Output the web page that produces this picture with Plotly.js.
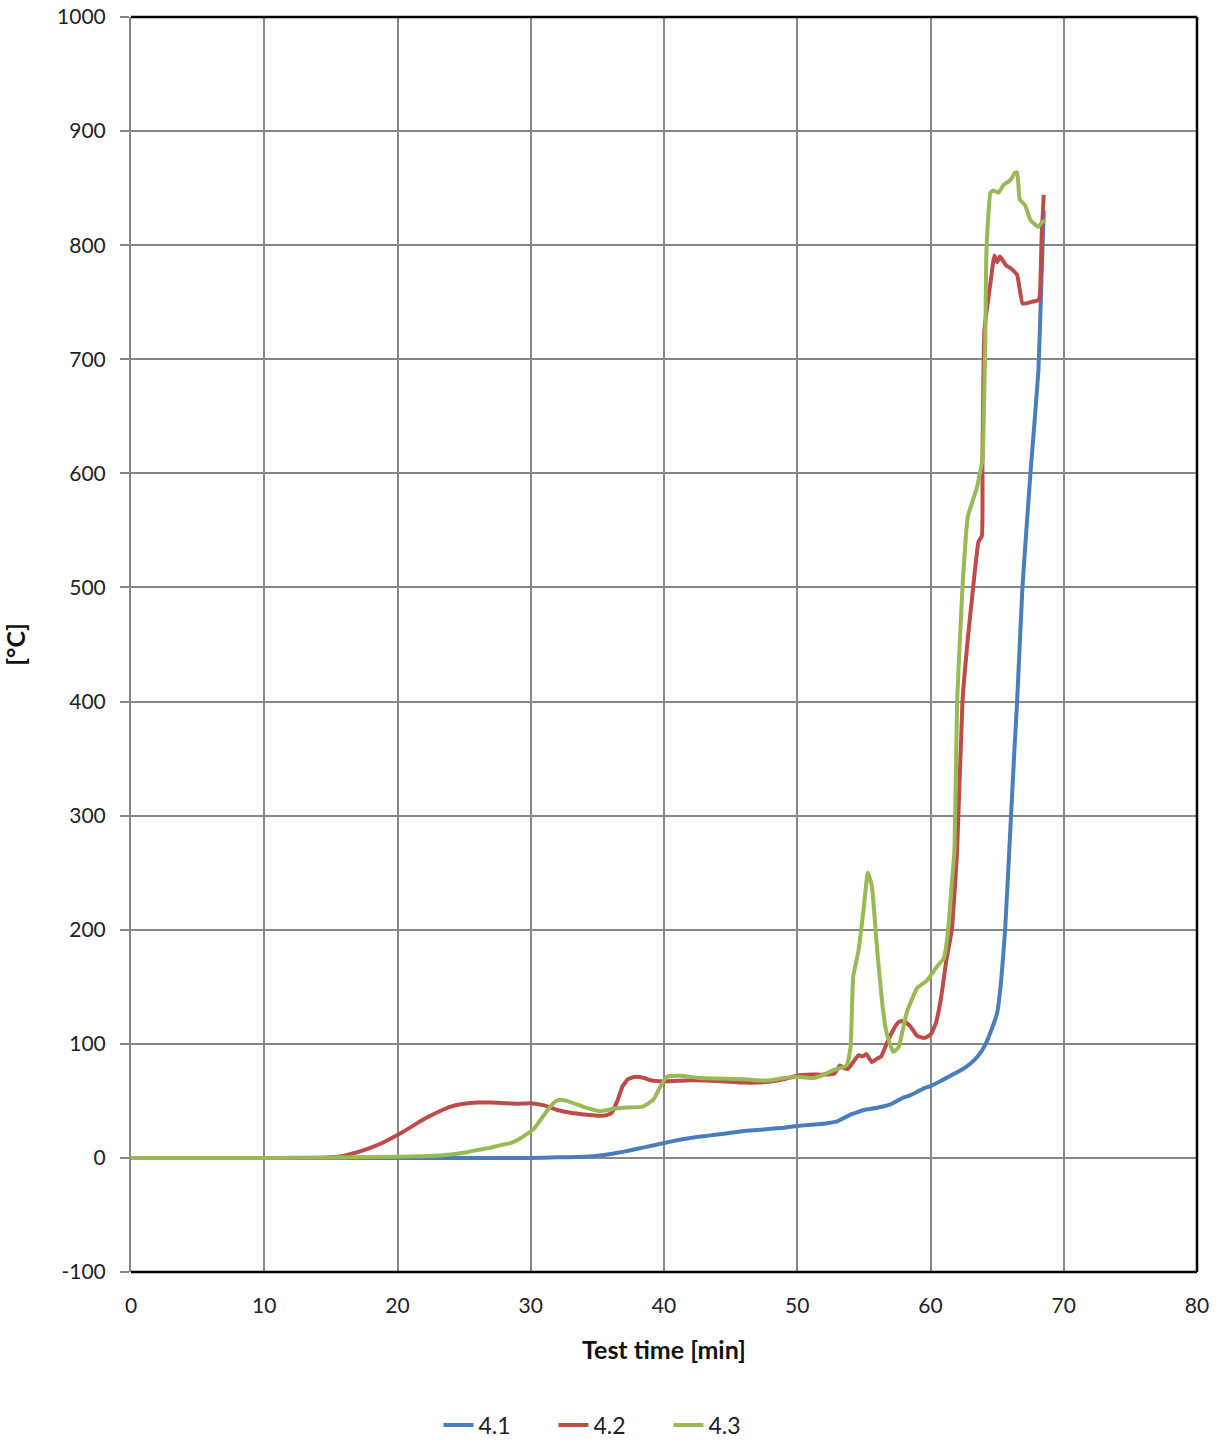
<!DOCTYPE html>
<html>
<head>
<meta charset="utf-8">
<script src="https://cdn.plot.ly/plotly-3.0.1.min.js"></script>
<style>html,body{margin:0;padding:0;background:#fff;}#chart{width:1222px;height:1440px;}</style>
</head>
<body>
<div id="chart"></div>
<script>
const seriesNames = ["4.1", "4.2", "4.3"];
const seriesColors = ["#4A7EBB", "#BE4B48", "#98B954"];

const t41 = [0, 10, 20, 30, 32, 34, 35, 36, 37, 38, 39, 40, 41, 42, 43, 44, 45, 46, 47, 48, 49, 50, 51, 52, 53, 53.5, 54, 54.5, 55, 56, 57, 57.5, 58, 58.5, 59, 59.5, 60, 60.7, 61.5, 62, 62.7, 63.3, 63.8, 64.1, 64.5, 65, 65.3, 65.6, 65.8, 66, 66.3, 66.5, 66.9, 67.5, 68.1, 68.3, 68.5];
const v41 = [0, 0, 0, 0, 0.5, 1, 2, 3.5, 5.5, 8, 10.5, 13, 15.5, 17.5, 19, 20.5, 22, 23.5, 24.5, 25.5, 26.5, 28, 29, 30, 32, 35, 38, 40, 42, 44, 47, 50, 53, 55, 58, 61, 63, 67, 72, 75, 80, 86, 93, 99, 110, 127, 155, 200, 244, 290, 358, 400, 500, 600, 690, 760, 830];

const t42 = [0, 10, 14, 15, 16, 17, 18, 19, 20, 21, 22, 23, 24, 25, 26, 27, 28, 29, 30, 31, 32, 33, 34, 35, 35.7, 36.1, 36.5, 36.9, 37.3, 37.8, 38.5, 39, 40, 42, 44, 46, 47, 48, 49, 50, 51, 52, 52.8, 53.2, 53.5, 53.8, 54.2, 54.6, 54.9, 55.2, 55.6, 56, 56.3, 56.7, 57.1, 57.6, 58, 58.5, 59, 59.5, 60, 60.4, 60.8, 61.2, 61.6, 62, 62.4, 62.8, 63.2, 63.6, 63.85, 63.9, 64.05, 64.5, 64.8, 65, 65.2, 65.4, 65.7, 66, 66.5, 66.9, 67.2, 67.5, 68.1, 68.2, 68.35, 68.5];
const v42 = [0, 0, 0, 0.5, 2, 5, 9, 14, 20, 27, 34, 40, 45, 47.5, 48.5, 48.5, 48, 47.5, 48, 46, 42, 39.5, 38, 37, 37.5, 40, 50, 63, 69, 71, 70, 68, 67, 68, 67.5, 66, 66, 67, 69, 72, 73, 73, 74, 81, 79, 78, 84, 90, 89, 91, 84, 87, 89, 100, 110, 119, 120, 115, 107, 105, 108, 118, 141, 174, 200, 270, 400, 455, 500, 540, 545, 612, 726, 767, 791, 785, 790, 787, 782, 780, 774, 749, 749, 750, 752, 755, 811, 844];

const t43 = [0, 10, 20, 22, 24, 25.2, 26, 27, 27.7, 28.5, 29.2, 30.2, 31.2, 31.8, 32.2, 32.7, 33.9, 35.2, 36.2, 36.9, 38.4, 39.2, 39.7, 40.2, 41.2, 42.7, 44, 46, 47, 48, 49, 50.2, 51.2, 52, 52.7, 53.7, 54, 54.2, 54.6, 54.95, 55.3, 55.6, 56, 56.4, 56.7, 57.2, 57.6, 58.2, 59, 59.7, 60.5, 61, 61.3, 61.6, 61.8, 62, 62.4, 62.8, 63.5, 63.7, 63.9, 64.1, 64.2, 64.5, 64.7, 65.1, 65.5, 66, 66.3, 66.5, 66.7, 67.1, 67.5, 68.1, 68.35, 68.6];
const v43 = [0, 0, 1, 1.5, 3, 5, 7, 9, 11, 13, 17, 25, 41, 49, 51, 50, 45, 41, 43, 44, 45, 51, 62, 71, 72, 70, 69.5, 69, 68, 68, 70, 71, 70, 73, 77, 81, 97, 159, 182, 215, 250, 238, 182, 133, 110, 93, 97, 127, 149, 155, 168, 175, 197, 241, 270, 401, 500, 562, 588, 600, 612, 708, 796, 846, 848, 846, 853, 857, 863, 864, 840, 835, 822, 816, 820, 822];

const xTicks = [0, 10, 20, 30, 40, 50, 60, 70, 80];
const yTicks = [-100, 0, 100, 200, 300, 400, 500, 600, 700, 800, 900, 1000];
const xTitle = "Test time [min]";
const yTitle = "[°C]";

const xs = [t41, t42, t43];
const ys = [v41, v42, v43];
const traces = xs.map((x, i) => ({
  x: x, y: ys[i], name: seriesNames[i], type: "scatter", mode: "lines",
  line: {color: seriesColors[i], width: 4, shape: "spline", smoothing: 0.4}
}));

const font = "Lato, 'Open Sans', 'Liberation Sans', sans-serif";
const layout = {
  width: 1222, height: 1440,
  margin: {l: 131, r: 25, t: 17, b: 168, autoexpand: false},
  paper_bgcolor: "#fff", plot_bgcolor: "#fff",
  font: {family: font, size: 21, color: "#222"},
  showlegend: true,
  legend: {orientation: "h", x: 0.5, xanchor: "center", xref: "container",
           y: 0.0104, yanchor: "middle", yref: "container",
           entrywidth: 70, entrywidthmode: "pixels",
           font: {family: font, size: 23, color: "#222"}, traceorder: "normal"},
  xaxis: {
    range: [0, 80], tickvals: xTicks, ticktext: xTicks.map(String),
    showgrid: true, gridcolor: "#878787", gridwidth: 2,
    zeroline: false, showline: false, ticks: "outside", ticklen: 15, tickcolor: "rgba(0,0,0,0)",
    tickfont: {family: font, size: 21, color: "#222"},
    title: {text: xTitle, font: {family: font, size: 25, color: "#111", weight: "bold"}, standoff: 25}
  },
  yaxis: {
    range: [-100, 1000], tickvals: yTicks, ticktext: yTicks.map(String),
    showgrid: true, gridcolor: "#878787", gridwidth: 2,
    zeroline: false, showline: true, linecolor: "#878787", linewidth: 2,
    ticks: "outside", ticklen: 9, tickcolor: "#878787", tickwidth: 2,
    ticklabelstandoff: 10,
    tickfont: {family: font, size: 21, color: "#222"},
    title: {text: yTitle, font: {family: font, size: 25, color: "#111", weight: "bold"}, standoff: 30}
  },
  shapes: [
    {type: "line", xref: "paper", yref: "paper", x0: 0, x1: 1, y0: 1, y1: 1, line: {color: "#000", width: 2.5}},
    {type: "line", xref: "paper", yref: "paper", x0: 1, x1: 1, y0: 0, y1: 1, line: {color: "#000", width: 2.5}},
    {type: "line", xref: "paper", yref: "paper", x0: 0, x1: 1, y0: 0, y1: 0, line: {color: "#000", width: 2.5}}
  ]
};
Plotly.newPlot("chart", traces, layout, {displayModeBar: false, staticPlot: true});
</script>
</body>
</html>
